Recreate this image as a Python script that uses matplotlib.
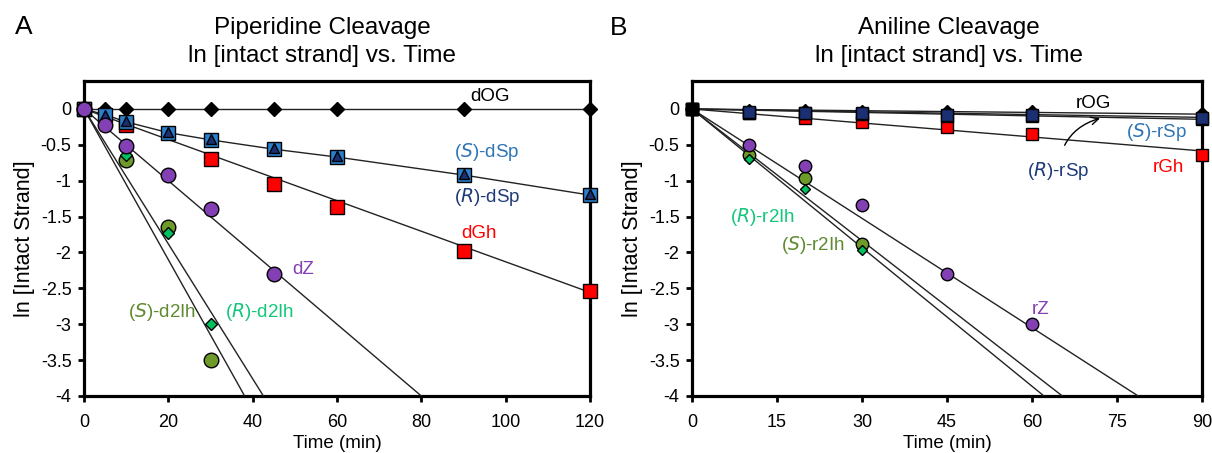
import matplotlib
matplotlib.use("Agg")
import matplotlib.pyplot as plt
import numpy as np

plt.rcParams['font.family'] = ['Liberation Sans', 'DejaVu Sans']

# ---------------- Panel A data (piperidine) ----------------
a_t_og = [0, 5, 10, 20, 30, 45, 60, 90, 120]
a_og = [0, 0, 0, 0, 0, 0, 0, 0, 0]
a_t_sp = [0, 5, 10, 20, 30, 45, 60, 90, 120]
a_s_sp = [0, -0.08, -0.18, -0.33, -0.43, -0.56, -0.67, -0.92, -1.20]
a_r_sp = [0, -0.08, -0.17, -0.32, -0.42, -0.55, -0.66, -0.91, -1.19]
a_t_gh = [0, 10, 30, 45, 60, 90, 120]
a_gh = [0, -0.22, -0.70, -1.05, -1.37, -1.98, -2.53]
a_t_z = [0, 5, 10, 20, 30, 45]
a_z = [0, -0.22, -0.51, -0.92, -1.39, -2.30]
a_t_ih = [0, 10, 20, 30]
a_s_ih = [0, -0.71, -1.64, -3.50]
a_r_ih = [0, -0.64, -1.73, -3.00]
# trend line slopes (per min)
a_slope = {'dOG': 0.0, 'dGh': -0.0213, 'dZ': -0.050, 'Sd2Ih': -0.105, 'Rd2Ih': -0.094}

# ---------------- Panel B data (aniline) ----------------
b_t = [0, 10, 20, 30, 45, 60, 90]
b_og = [0, -0.02, -0.02, -0.03, -0.03, -0.03, -0.06]
b_s_sp = [0, -0.05, -0.06, -0.07, -0.10, -0.10, -0.14]
b_r_sp = [0, -0.04, -0.05, -0.06, -0.08, -0.08, -0.12]
b_gh = [0, -0.06, -0.12, -0.18, -0.25, -0.35, -0.64]
b_t_z = [0, 10, 20, 30, 45, 60]
b_z = [0, -0.50, -0.79, -1.34, -2.30, -3.00]
b_t_ih = [0, 10, 20, 30]
b_s_ih = [0, -0.64, -0.96, -1.88]
b_r_ih = [0, -0.70, -1.11, -1.97]
b_slope = {'rOG': -0.0008, 'RrSp': -0.0013, 'SrSp': -0.0016, 'rGh': -0.0065,
           'rZ': -0.0508, 'Sr2Ih': -0.0612, 'Rr2Ih': -0.0644}

a_xticks = [0, 20, 40, 60, 80, 100, 120]
b_xticks = [0, 15, 30, 45, 60, 75, 90]
yticks = [0, -0.5, -1, -1.5, -2, -2.5, -3, -3.5, -4]
ytick_labels = ['0', '-0.5', '-1', '-1.5', '-2', '-2.5', '-3', '-3.5', '-4']

C_SBLUE = '#2A80CC'
C_NAVY = '#1B2F73'
C_SBLUE_T = '#2E75B6'
C_NAVY_T = '#1F3A78'
C_RED = '#FF0000'
C_PURPLE = '#8240B4'
C_OLIVE = '#6E9A2A'
C_OLIVE_T = '#5E8A30'
C_GREEN = '#00C060'
C_GREEN_T = '#12C77A'

fig = plt.figure(figsize=(12.12, 4.53), dpi=100)
W, H = 1212, 453
axA = fig.add_axes([84 / W, 1 - 396 / H, (590 - 84) / W, (396 - 81) / H])
axB = fig.add_axes([692 / W, 1 - 396 / H, (1202 - 692) / W, (396 - 81) / H])

LW = 1.0
LC = '#222222'


def trend(ax, slope, xmax):
    xs = np.array([0, xmax])
    ys = slope * xs
    ax.plot(xs, ys, color=LC, lw=LW, zorder=2, clip_on=True)


def style(ax, xlim, xticks):
    ax.set_xlim(*xlim)
    ax.set_ylim(-4, 0.39)
    ax.set_xticks(xticks)
    ax.set_xticklabels([str(t) for t in xticks])
    ax.set_yticks(yticks)
    ax.set_yticklabels(ytick_labels)
    for s in ax.spines.values():
        s.set_linewidth(2.3)
        s.set_zorder(1)
    ax.tick_params(direction='out', length=4, width=2, labelsize=13)
    ax.tick_params(axis='x', pad=9)
    ax.tick_params(axis='y', pad=5)
    ax.set_xlabel('Time (min)', fontsize=13.5, labelpad=3)
    ax.set_ylabel('ln [Intact Strand]', fontsize=15.5, labelpad=4)


# ---------- Panel A ----------
ax = axA
style(ax, (0, 120), a_xticks)
trend(ax, a_slope['dOG'], 120)
ax.plot(a_t_sp, a_s_sp, color=LC, lw=LW, zorder=2)
trend(ax, a_slope['dGh'], 120)
trend(ax, a_slope['dZ'], 120)
trend(ax, a_slope['Sd2Ih'], 120)
trend(ax, a_slope['Rd2Ih'], 120)
mk = dict(ls='none', mec='black', mew=1.0, clip_on=False)
ax.plot(a_t_og, a_og, marker='D', ms=7, mfc='black', zorder=3, **mk)
ax.plot(a_t_gh, a_gh, marker='s', ms=10.5, mfc=C_RED, zorder=4, **mk)
ax.plot(a_t_sp, a_s_sp, marker='s', ms=10.5, mfc=C_SBLUE, zorder=5, **mk)
ax.plot(a_t_sp, a_r_sp, marker='^', ms=7.5, mfc=C_NAVY, zorder=6, **mk)
ax.plot(a_t_ih, a_s_ih, marker='o', ms=10.5, mfc=C_OLIVE, zorder=7, **mk)
ax.plot(a_t_ih, a_r_ih, marker='D', ms=6.5, mfc=C_GREEN, zorder=8, **mk)
ax.plot(a_t_z, a_z, marker='o', ms=10.5, mfc=C_PURPLE, zorder=9, **mk)

fs = 13.5
ax.text(96.4, 0.17, 'dOG', color='black', fontsize=fs, ha='center', va='center')
ax.text(95.5, -0.60, r'($\mathit{S}$)-dSp', color=C_SBLUE_T, fontsize=fs, ha='center', va='center')
ax.text(95.5, -1.23, r'($\mathit{R}$)-dSp', color=C_NAVY_T, fontsize=fs, ha='center', va='center')
ax.text(93.6, -1.73, 'dGh', color=C_RED, fontsize=fs, ha='center', va='center')
ax.text(51.9, -2.24, 'dZ', color=C_PURPLE, fontsize=fs, ha='center', va='center')
ax.text(18.5, -2.83, r'($\mathit{S}$)-d2Ih', color=C_OLIVE_T, fontsize=fs, ha='center', va='center')
ax.text(41.7, -2.83, r'($\mathit{R}$)-d2Ih', color=C_GREEN_T, fontsize=fs, ha='center', va='center')

# ---------- Panel B ----------
ax = axB
style(ax, (0, 90), b_xticks)
trend(ax, b_slope['rOG'], 90)
trend(ax, b_slope['RrSp'], 90)
trend(ax, b_slope['SrSp'], 90)
trend(ax, b_slope['rGh'], 90)
trend(ax, b_slope['rZ'], 90)
trend(ax, b_slope['Sr2Ih'], 90)
trend(ax, b_slope['Rr2Ih'], 90)
ax.plot(b_t, b_og, marker='D', ms=6, mfc='black', zorder=3, **mk)
ax.plot(b_t, b_gh, marker='s', ms=8.5, mfc=C_RED, zorder=4, **mk)
ax.plot(b_t, b_s_sp, marker='s', ms=8.5, mfc=C_SBLUE, zorder=5, **mk)
ax.plot(b_t, b_r_sp, marker='s', ms=8.5, mfc=C_NAVY, zorder=6, **mk)
ax.plot(b_t_ih, b_s_ih, marker='o', ms=9, mfc=C_OLIVE, zorder=7, **mk)
ax.plot(b_t_ih, b_r_ih, marker='D', ms=5.5, mfc=C_GREEN, zorder=8, **mk)
ax.plot(b_t_z, b_z, marker='o', ms=9, mfc=C_PURPLE, zorder=9, **mk)
ax.plot([0], [0], marker='s', ms=8.5, mfc='black', zorder=10, **mk)

ax.text(70.8, 0.08, 'rOG', color='black', fontsize=fs, ha='center', va='center')
ax.text(82.0, -0.32, r'($\mathit{S}$)-rSp', color=C_SBLUE_T, fontsize=fs, ha='center', va='center')
ax.text(84.0, -0.81, 'rGh', color=C_RED, fontsize=fs, ha='center', va='center')
ax.text(12.4, -1.51, r'($\mathit{R}$)-r2Ih', color=C_GREEN_T, fontsize=fs, ha='center', va='center')
ax.text(21.4, -1.90, r'($\mathit{S}$)-r2Ih', color=C_OLIVE_T, fontsize=fs, ha='center', va='center')
ax.text(61.6, -2.79, 'rZ', color=C_PURPLE, fontsize=fs, ha='center', va='center')
ax.annotate(r'($\mathit{R}$)-rSp', xy=(72.0, -0.13), xytext=(64.6, -0.86),
            color=C_NAVY_T, fontsize=fs, ha='center', va='center',
            arrowprops=dict(arrowstyle='->', color='black', lw=1.0,
                            connectionstyle='arc3,rad=-0.35',
                            shrinkA=9, shrinkB=0))

# titles & panel letters
fig.text(322 / W, 1 - 34 / H, 'Piperidine Cleavage', fontsize=17.5, ha='center', va='baseline')
fig.text(322 / W, 1 - 62 / H, 'ln [intact strand] vs. Time', fontsize=17.5, ha='center', va='baseline')
fig.text(949 / W, 1 - 34 / H, 'Aniline Cleavage', fontsize=17.5, ha='center', va='baseline')
fig.text(949 / W, 1 - 62 / H, 'ln [intact strand] vs. Time', fontsize=17.5, ha='center', va='baseline')
fig.text(24 / W, 1 - 27 / H, 'A', fontsize=19, ha='center', va='center')
fig.text(619 / W, 1 - 28 / H, 'B', fontsize=19, ha='center', va='center')

fig.savefig('out.png', dpi=100, facecolor='white')
